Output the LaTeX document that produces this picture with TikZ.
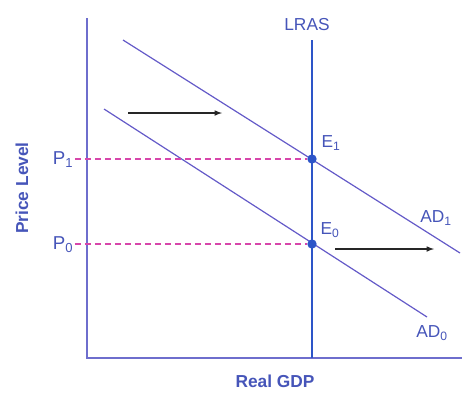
\documentclass[tikz,border=0pt]{standalone}
\usepackage{fontspec}
\setmainfont{Liberation Sans}
\definecolor{eixo}{RGB}{110,110,205}
\definecolor{curva}{RGB}{100,90,200}
\definecolor{lras}{RGB}{45,85,200}
\definecolor{rotulo}{RGB}{70,85,185}
\definecolor{tracejado}{RGB}{215,70,170}
\tikzset{
  rot/.style={text=rotulo, font=\fontsize{13}{15}\selectfont, inner sep=1pt},
  ponto/.style={circle, fill=lras, inner sep=0pt, minimum size=7pt},
  guia/.style={tracejado, dash pattern=on 4.5pt off 3pt, line width=0.8pt},
}
\begin{document}
\begin{tikzpicture}[x=0.75pt, y=-0.75pt, >=latex]
\useasboundingbox (0,0) rectangle (465,394);
% Eixos
\coordinate (ytop) at (87,18);
\coordinate (O) at (87,358);
\coordinate (xend) at (462,358);
\draw[eixo, line width=1.1pt] (ytop) -- (O) -- (xend);
\node[rot, font=\bfseries\fontsize{13}{15}\selectfont, rotate=90] (ylab) at (22,188) {Price Level};
\node[rot, font=\bfseries\fontsize{13}{15}\selectfont] (xlab) at (275,381) {Real GDP};
% LRAS
\coordinate (ltop) at (312,40);
\coordinate (lbot) at (312,358);
\draw[lras, line width=1pt] (ltop) -- (lbot);
\node[rot] (lraslab) at (307,25) {LRAS};
% Curvas AD
\coordinate (ad1a) at (123,40);
\coordinate (ad1b) at (460,253);
\coordinate (ad0a) at (104,109);
\coordinate (ad0b) at (427,317);
\draw[curva, line width=0.9pt] (ad1a) -- (ad1b);
\draw[curva, line width=0.9pt] (ad0a) -- (ad0b);
\node[rot] (ad1lab) at (436,218) {AD\textsubscript{1}};
\node[rot] (ad0lab) at (432,333) {AD\textsubscript{0}};
% Equilibrios
\node[ponto] (E1) at (312,159) {};
\node[ponto] (E0) at (312,244) {};
\node[rot] (e1lab) at (331,143) {E\textsubscript{1}};
\node[rot] (e0lab) at (330,230) {E\textsubscript{0}};
% Niveis de preco
\node[rot, font=\fontsize{14}{16}\selectfont] (P1) at (63,160) {P\textsubscript{1}};
\node[rot, font=\fontsize{14}{16}\selectfont] (P0) at (63,245) {P\textsubscript{0}};
\draw[guia] (P1.east |- E1) -- (E1);
\draw[guia] (P0.east |- E0) -- (E0);
% Setas de deslocamento
\coordinate (s1a) at (128,113);
\coordinate (s1b) at (222,113);
\coordinate (s2a) at (335,249);
\coordinate (s2b) at (434,249);
\draw[->, black!85, line width=0.9pt] (s1a) -- (s1b);
\draw[->, black!85, line width=0.9pt] (s2a) -- (s2b);
\end{tikzpicture}
\end{document}
